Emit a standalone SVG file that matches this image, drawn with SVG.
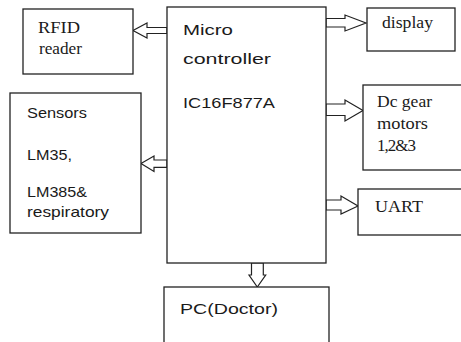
<svg xmlns="http://www.w3.org/2000/svg" width="461" height="342" viewBox="0 0 461 342">
  <style>
    .box { fill: #ffffff; stroke: #222222; stroke-width: 1.3; }
    .arrow { fill: #ffffff; stroke: #222222; stroke-width: 1.2; stroke-linejoin: miter; }
    .serif { font-family: "Liberation Serif", "Times New Roman", serif; font-size: 17px; fill: #1a1a1a; }
    .sans { font-family: "Liberation Sans", Arial, sans-serif; font-size: 15px; fill: #1a1a1a; }
  </style>
  <rect width="461" height="342" fill="#ffffff"/>

  <!-- block-arrow connectors -->
  <g id="connectors">
    <!-- to RFID reader -->
    <polygon class="arrow" points="167,27.5 147,27.5 147,23 133,30.5 147,38 147,33.5 167,33.5"/>
    <!-- to Sensors -->
    <polygon class="arrow" points="167,160 154,160 154,156 141,163.5 154,171.5 154,167.3 167,167.3"/>
    <!-- to display -->
    <polygon class="arrow" points="326,18.5 345,18.5 345,15 366,23 345,31 345,27 326,27"/>
    <!-- to Dc gear motors -->
    <polygon class="arrow" points="326,104 345,104 345,100 363,110.5 345,121 345,115.5 326,115.5"/>
    <!-- to UART -->
    <polygon class="arrow" points="326,200 341,200 341,196 358,206 341,214 341,210 326,210"/>
    <!-- to PC -->
    <polygon class="arrow" points="251.5,263 251.5,275 249,275 257.3,287 265.7,275 263.3,275 263.3,263"/>
  </g>

  <g id="rfid">
    <rect class="box" x="23" y="9" width="110" height="65"/>
    <text class="serif" x="38" y="33" textLength="42" lengthAdjust="spacingAndGlyphs">RFID</text>
    <text class="serif" x="39" y="54" font-size="15" textLength="43" lengthAdjust="spacingAndGlyphs">reader</text>
  </g>

  <g id="microcontroller">
    <rect class="box" x="167" y="7" width="159" height="256"/>
    <text class="sans" x="183" y="35" textLength="50" lengthAdjust="spacingAndGlyphs">Micro</text>
    <text class="sans" x="183" y="64" textLength="88" lengthAdjust="spacingAndGlyphs">controller</text>
    <text class="sans" x="183" y="108" textLength="92" lengthAdjust="spacingAndGlyphs">IC16F877A</text>
  </g>

  <g id="sensors">
    <rect class="box" x="10" y="93" width="131" height="140"/>
    <text class="sans" x="27" y="118" font-size="14" textLength="60" lengthAdjust="spacingAndGlyphs">Sensors</text>
    <text class="sans" x="27" y="160" font-size="14" textLength="45" lengthAdjust="spacingAndGlyphs">LM35,</text>
    <text class="sans" x="27" y="197" font-size="14" textLength="60" lengthAdjust="spacingAndGlyphs">LM385&amp;</text>
    <text class="sans" x="27" y="217" font-size="14" textLength="82" lengthAdjust="spacingAndGlyphs">respiratory</text>
  </g>

  <g id="display">
    <rect class="box" x="367" y="8" width="88" height="43"/>
    <text class="serif" x="382" y="28" font-size="16" textLength="51" lengthAdjust="spacingAndGlyphs">display</text>
  </g>

  <g id="motors">
    <rect class="box" x="363" y="85" width="110" height="85"/>
    <text class="serif" x="377" y="107" font-size="16" textLength="55" lengthAdjust="spacingAndGlyphs">Dc gear</text>
    <text class="serif" x="377" y="129" font-size="16" textLength="51" lengthAdjust="spacingAndGlyphs">motors</text>
    <text class="serif" x="377" y="151" font-size="16" letter-spacing="-1">1,2&amp;3</text>
  </g>

  <g id="uart">
    <rect class="box" x="358" y="189" width="115" height="46"/>
    <text class="serif" x="375" y="212" font-size="17" textLength="48" lengthAdjust="spacingAndGlyphs">UART</text>
  </g>

  <g id="pc">
    <rect class="box" x="164" y="287" width="165" height="70"/>
    <text class="sans" x="180" y="314" textLength="98" lengthAdjust="spacingAndGlyphs">PC(Doctor)</text>
  </g>
</svg>
